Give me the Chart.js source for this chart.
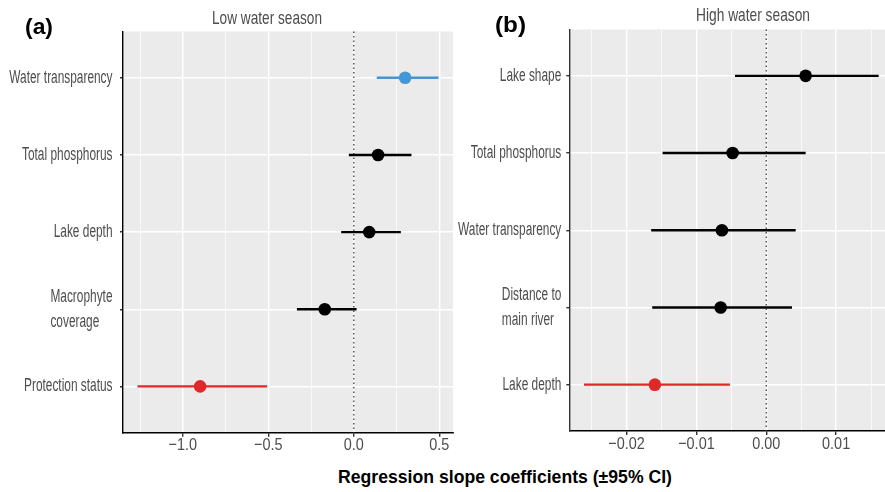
<!DOCTYPE html>
<html>
<head>
<meta charset="utf-8">
<script src="https://cdn.jsdelivr.net/npm/chart.js@4.4.1/dist/chart.umd.min.js"></script>
<style>
  body { margin: 0; background: #fff; width: 885px; height: 492px; overflow: hidden; position: relative; }
  canvas { position: absolute; top: 0; }
  .txt { position: absolute; white-space: nowrap; font-family: 'Liberation Sans', Arial, sans-serif; transform-origin: 0 50%; line-height: 1; }
</style>
</head>
<body>
<canvas id="chartA"></canvas>
<canvas id="chartB"></canvas>
<div class="txt" data-w="28" style="left:25px; top:16px; font-size:22px; font-weight:bold;">(a)</div>
<div class="txt" data-w="31" style="left:495px; top:14px; font-size:22px; font-weight:bold;">(b)</div>
<div class="txt" data-w="110" style="left:212px; top:8px; font-size:19px; color:#4d4d4d;">Low water season</div>
<div class="txt" data-w="114" style="left:696px; top:5px; font-size:19px; color:#4d4d4d;">High water season</div>
<div class="txt" data-w="334" style="left:338px; top:468px; font-size:18px; font-weight:bold;">Regression slope coefficients (±95% CI)</div>
<script>
const FONT = "'Liberation Sans', Arial, sans-serif";
const BLUE = '#4596d4';
const RED = '#e0282a';
const BLACK = '#000000';

// panel (a) low water season
var labelsA = ['Water transparency', 'Total phosphorus', 'Lake depth', ['Macrophyte', 'coverage'], 'Protection status'];
var estA = [0.30, 0.142, 0.090, -0.170, -0.899];
var loA = [0.134, -0.029, -0.074, -0.333, -1.265];
var hiA = [0.495, 0.337, 0.275, 0.016, -0.507];
var colorsA = [BLUE, BLACK, BLACK, BLACK, RED];
var tickValsA = [-1.25, -1, -0.75, -0.5, -0.25, 0, 0.25, 0.5];
var majorA = [-1, -0.5, 0, 0.5];
var majorLabelsA = ['\u22121.0', '\u22120.5', '0.0', '0.5'];

// panel (b) high water season
var labelsB = ['Lake shape', 'Total phosphorus', 'Water transparency', ['Distance to', 'main river'], 'Lake depth'];
var estB = [0.00564, -0.00482, -0.00635, -0.00653, -0.01595];
var loB = [-0.00448, -0.01484, -0.01648, -0.01633, -0.0261];
var hiB = [0.0161, 0.00564, 0.00421, 0.00368, -0.0052];
var colorsB = [BLACK, BLACK, BLACK, BLACK, RED];
var tickValsB = [-0.025, -0.02, -0.015, -0.01, -0.005, 0, 0.005, 0.01, 0.015];
var majorB = [-0.02, -0.01, 0, 0.01];
var majorLabelsB = ['\u22120.02', '\u22120.01', '0.00', '0.01'];

// squeeze the html labels to the widths seen in the picture
document.querySelectorAll('.txt').forEach(el => {
  const w = el.getBoundingClientRect().width;
  el.style.transform = 'scaleX(' + (+el.dataset.w / w) + ')';
});

function isMajor(list, v) {
  return list.some(m => Math.abs(m - v) < 1e-9);
}

// grey panel, dotted zero line and the narrow axis labels
const panelBg = {
  id: 'panelBg',
  beforeDraw(chart) {
    const a = chart.chartArea, c = chart.ctx;
    c.save();
    c.fillStyle = '#ebebeb';
    c.fillRect(a.left, a.top, a.right - a.left, a.bottom - a.top);
    c.restore();
  },
  beforeDatasetsDraw(chart) {
    const a = chart.chartArea, c = chart.ctx;
    const x0 = chart.scales.x.getPixelForValue(0);
    c.save();
    c.strokeStyle = '#333';
    c.lineWidth = 1.2;
    c.setLineDash([1.5, 3]);
    c.beginPath();
    c.moveTo(x0, a.top);
    c.lineTo(x0, a.bottom);
    c.stroke();
    c.restore();
  },
  afterDraw(chart, args, o) {
    const c = chart.ctx, xs = chart.scales.x, ys = chart.scales.y;
    c.save();
    c.fillStyle = '#4d4d4d';
    c.textBaseline = 'middle';
    // y labels
    c.font = o.ySize + 'px ' + FONT;
    o.labels.forEach((lab, i) => {
      const lines = Array.isArray(lab) ? lab : [lab];
      const wmax = Math.max(...lines.map(l => c.measureText(l).width)) * o.sx;
      const right = ys.right - o.yGap;
      const y = ys.getPixelForValue(i);
      lines.forEach((l, k) => {
        const yy = y + (k - (lines.length - 1) / 2) * o.lineGap;
        c.save();
        c.translate(right - wmax, yy);
        c.scale(o.sx, 1);
        c.textAlign = 'left';
        c.fillText(l, 0, 0);
        c.restore();
      });
    });
    // x labels
    c.font = o.xSize + 'px ' + FONT;
    o.major.forEach((v, k) => {
      c.save();
      c.translate(xs.getPixelForValue(v), xs.top + o.xGap);
      c.scale(o.xsx, 1);
      c.textAlign = 'center';
      c.fillText(o.majorLabels[k], 0, 0);
      c.restore();
    });
    c.restore();
  }
};

function makePanel(id, opt) {
  const el = document.getElementById(id);
  el.style.left = opt.left + 'px';
  el.width = opt.width;
  el.height = opt.height;

  const datasets = [{
    data: opt.est.map((v, i) => ({ x: v, y: i })),
    pointRadius: 6.3,
    pointBackgroundColor: opt.colors,
    pointBorderWidth: 0,
    order: 0
  }];
  opt.est.forEach((v, i) => {
    datasets.push({
      data: [{ x: opt.lo[i], y: i }, { x: opt.hi[i], y: i }],
      showLine: true,
      borderColor: opt.colors[i],
      borderWidth: 2.4,
      pointRadius: 0,
      order: 1
    });
  });

  return new Chart(el, {
    type: 'scatter',
    data: { datasets: datasets },
    options: {
      responsive: false,
      animation: false,
      layout: { autoPadding: false, padding: { top: opt.top, right: opt.right, left: 0, bottom: 0 } },
      plugins: {
        legend: { display: false },
        tooltip: { enabled: false },
        panelBg: {
          labels: opt.labels, major: opt.major, majorLabels: opt.majorLabels,
          ySize: 18, sx: 0.66, yGap: opt.yGap, lineGap: 25,
          xSize: 17, xsx: 0.85, xGap: 13
        }
      },
      scales: {
        x: {
          type: 'linear',
          min: opt.xmin,
          max: opt.xmax,
          afterBuildTicks(s) { s.ticks = opt.tickVals.map(v => ({ value: v })); },
          afterFit(s) { s.height = opt.height - opt.bottom; },
          border: { display: true, color: '#000', width: 1.4 },
          grid: {
            color: '#ffffff',
            lineWidth: ctx => isMajor(opt.major, ctx.tick.value) ? 1.4 : 0.7,
            tickColor: ctx => isMajor(opt.major, ctx.tick.value) ? '#333' : 'rgba(0,0,0,0)',
            tickLength: 4
          },
          ticks: { display: false }
        },
        y: {
          type: 'linear',
          reverse: true,
          min: -0.6,
          max: 4.6,
          afterBuildTicks(s) { s.ticks = opt.labels.map((l, i) => ({ value: i })); },
          afterFit(s) { s.width = opt.axisWidth; },
          border: { display: true, color: opt.axisColor, width: 1.4 },
          grid: {
            color: '#ffffff',
            lineWidth: 1.4,
            tickColor: '#333',
            tickLength: 3
          },
          ticks: { display: false }
        }
      }
    },
    plugins: [panelBg]
  });
}

makePanel('chartA', {
  left: 0, width: 455, height: 460, top: 31.5, right: 2, bottom: 432.7,
  axisWidth: 123, axisColor: '#000', yGap: 10.5,
  labels: labelsA, est: estA, lo: loA, hi: hiA, colors: colorsA,
  xmin: -1.35, xmax: 0.58, tickVals: tickValsA, major: majorA, majorLabels: majorLabelsA
});

makePanel('chartB', {
  left: 455, width: 430, height: 460, top: 29.5, right: 0, bottom: 431,
  axisWidth: 114.3, axisColor: '#333', yGap: 8,
  labels: labelsB, est: estB, lo: loB, hi: hiB, colors: colorsB,
  xmin: -0.0282, xmax: 0.0170, tickVals: tickValsB, major: majorB, majorLabels: majorLabelsB
});
</script>
</body>
</html>
